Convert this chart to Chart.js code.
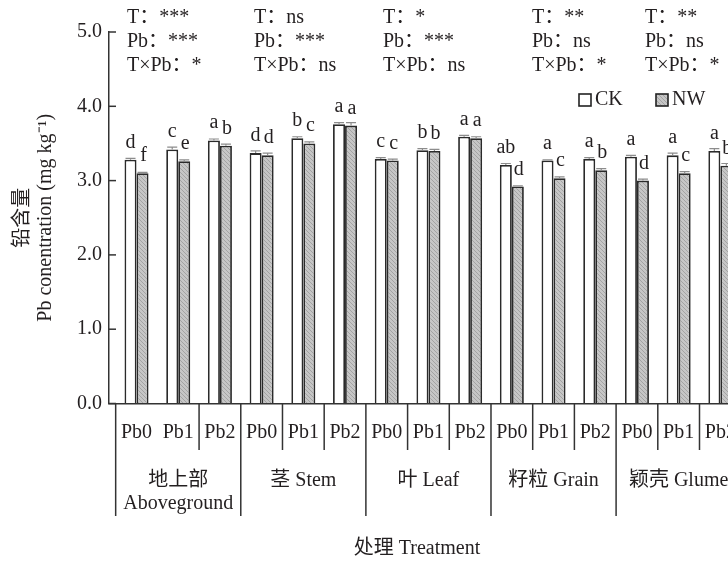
<!DOCTYPE html>
<html lang="zh">
<head>
    <meta charset="UTF-8">
    <title>铅含量 Pb concentration</title>
    <script src="https://cdn.jsdelivr.net/npm/chart.js"></script>
    <style>
        html, body {
            margin: 0;
            padding: 0;
            background: #ffffff;
            overflow: hidden;
        }
        #wrap {
            width: 750px;
            height: 562px;
        }
    </style>
</head>
<body>
    <div id="wrap"><canvas id="pbChart" width="750" height="562"></canvas></div>

    <script>
        // data
        const organs = ['地上部', '茎 Stem', '叶 Leaf', '籽粒 Grain', '颖壳 Glume'];
        const organSub = ['Aboveground', '', '', '', ''];
        const treatments = ['Pb0', 'Pb1', 'Pb2'];
        const ckValues = [3.28, 3.42, 3.54, 3.37, 3.57, 3.76, 3.29, 3.41, 3.59, 3.21, 3.27, 3.29, 3.32, 3.34, 3.40];
        const nwValues = [3.10, 3.26, 3.47, 3.34, 3.50, 3.74, 3.27, 3.40, 3.57, 2.92, 3.03, 3.14, 3.00, 3.10, 3.20];
        const ckErr = [0.02, 0.03, 0.02, 0.03, 0.02, 0.02, 0.02, 0.02, 0.02, 0.02, 0.01, 0.02, 0.02, 0.03, 0.03];
        const nwErr = [0.01, 0.02, 0.02, 0.03, 0.02, 0.04, 0.02, 0.02, 0.02, 0.01, 0.02, 0.02, 0.02, 0.02, 0.03];
        const ckLetters = ['d', 'c', 'a', 'd', 'b', 'a', 'c', 'b', 'a', 'ab', 'a', 'a', 'a', 'a', 'a'];
        const nwLetters = ['f', 'e', 'b', 'd', 'c', 'a', 'c', 'b', 'a', 'd', 'c', 'b', 'd', 'c', 'b'];
        const sigT = ['***', 'ns', '*', '**', '**'];
        const sigPb = ['***', '***', '***', 'ns', 'ns'];
        const sigTxPb = ['*', 'ns', 'ns', '*', '*'];
        const yTicks = [0, 1, 2, 3, 4, 5];

        const FONT = '"Liberation Serif", "Times New Roman", "Noto Sans CJK SC", serif';
        const INK = '#231f20';
        const annX = [127, 254, 383, 532, 645];

        const canvas = document.getElementById('pbChart');
        const ctx = canvas.getContext('2d');

        // grey textured fill for NW bars
        function makeHatch() {
            const c = document.createElement('canvas');
            c.width = 4;
            c.height = 4;
            const g = c.getContext('2d');
            g.fillStyle = '#c6c6c6';
            g.fillRect(0, 0, 4, 4);
            g.fillStyle = '#a3a3a3';
            for (let i = 0; i < 4; i++) g.fillRect(i, i, 1, 1);
            return ctx.createPattern(c, 'repeat');
        }

        const extrasPlugin = {
            id: 'extras',
            afterDatasetsDraw(chart) {
                const c = chart.ctx;
                const y = chart.scales.y;
                const errs = [ckErr, nwErr];
                const letters = [ckLetters, nwLetters];
                c.save();
                [0, 1].forEach(d => {
                    const meta = chart.getDatasetMeta(d);
                    meta.data.forEach((bar, i) => {
                        const v = chart.data.datasets[d].data[i].y;
                        const top = y.getPixelForValue(v + errs[d][i]);
                        const half = bar.width / 2 - 1;
                        c.strokeStyle = '#8c8c8c';
                        c.lineWidth = 1.2;
                        c.beginPath();
                        c.moveTo(bar.x, bar.y);
                        c.lineTo(bar.x, top);
                        c.moveTo(bar.x - half, top);
                        c.lineTo(bar.x + half, top);
                        c.stroke();

                        c.fillStyle = INK;
                        c.font = '20px ' + FONT;
                        c.textAlign = 'center';
                        c.textBaseline = 'alphabetic';
                        c.fillText(letters[d][i], bar.x + d, bar.y - 12);
                    });
                });
                c.restore();
            },
            afterDraw(chart) {
                const c = chart.ctx;
                const x = chart.scales.x;
                const y = chart.scales.y;
                const area = chart.chartArea;
                c.save();
                c.strokeStyle = '#333';
                c.lineWidth = 1.5;

                // inward tick marks on the y axis
                yTicks.forEach(v => {
                    const py = y.getPixelForValue(v);
                    c.beginPath();
                    c.moveTo(area.left, py);
                    c.lineTo(area.left + 7, py);
                    c.stroke();
                });

                // separators under the x axis
                for (let k = 0; k <= ckValues.length; k++) {
                    const px = x.getPixelForValue(k - 0.5);
                    let bottom = null;
                    if (k % 3 === 0) bottom = 516;
                    else if (k !== 1) bottom = 450;
                    if (bottom === null) continue;
                    c.beginPath();
                    c.moveTo(px, area.bottom);
                    c.lineTo(px, bottom);
                    c.stroke();
                }

                c.fillStyle = INK;
                c.font = '20px ' + FONT;
                c.textAlign = 'center';
                c.textBaseline = 'middle';

                // treatment labels
                ckValues.forEach((v, i) => {
                    c.fillText(treatments[i % 3], x.getPixelForValue(i), 433);
                });

                // organ labels
                organs.forEach((name, g) => {
                    const px = x.getPixelForValue(g * 3 + 1);
                    c.fillText(name, px, 481);
                    if (organSub[g]) c.fillText(organSub[g], px, 504);
                });

                // x axis title
                c.fillText('处理 Treatment', 417, 549);

                // significance notes
                c.textAlign = 'left';
                organs.forEach((name, g) => {
                    c.fillText('T：' + sigT[g], annX[g], 18);
                    c.fillText('Pb：' + sigPb[g], annX[g], 42);
                    c.fillText('T×Pb：' + sigTxPb[g], annX[g], 66);
                });

                // legend
                const items = [
                    { label: 'CK', fill: '#ffffff', bx: 579 },
                    { label: 'NW', fill: chart.data.datasets[1].backgroundColor, bx: 656 }
                ];
                items.forEach(it => {
                    c.fillStyle = it.fill;
                    c.fillRect(it.bx, 94, 12, 12);
                    c.strokeStyle = '#222';
                    c.lineWidth = 1.6;
                    c.strokeRect(it.bx, 94, 12, 12);
                    c.fillStyle = INK;
                    c.fillText(it.label, it.bx + 16, 100);
                });
                c.restore();
            }
        };

        new Chart(ctx, {
            type: 'bar',
            data: {
                datasets: [
                    {
                        label: 'CK',
                        data: ckValues.map((v, i) => ({ x: i, y: v })),
                        backgroundColor: '#ffffff',
                        borderColor: '#2a2a2a',
                        borderWidth: 1.8,
                        categoryPercentage: 0.576,
                        barPercentage: 1.0
                    },
                    {
                        label: 'NW',
                        data: nwValues.map((v, i) => ({ x: i, y: v })),
                        backgroundColor: makeHatch(),
                        borderColor: '#2a2a2a',
                        borderWidth: 1.8,
                        categoryPercentage: 0.576,
                        barPercentage: 1.0
                    }
                ]
            },
            options: {
                responsive: false,
                animation: false,
                layout: {
                    padding: { top: 32, right: 8.8, bottom: 0, left: 0 }
                },
                plugins: {
                    legend: { display: false },
                    tooltip: { enabled: false }
                },
                scales: {
                    x: {
                        type: 'linear',
                        offset: false,
                        min: -0.66,
                        max: 14.5,
                        ticks: { display: false },
                        grid: { display: false, offset: false },
                        border: { display: true, color: '#333', width: 1.5 },
                        afterFit(scale) {
                            scale.height = 158.5;
                        }
                    },
                    y: {
                        min: 0,
                        max: 5,
                        afterBuildTicks(scale) {
                            scale.ticks = yTicks.map(v => ({ value: v }));
                        },
                        ticks: {
                            color: INK,
                            padding: 7,
                            font: { family: FONT, size: 20 },
                            callback: v => v.toFixed(1)
                        },
                        grid: { drawOnChartArea: false, drawTicks: false },
                        border: { display: true, color: '#333', width: 1.5 },
                        title: {
                            display: true,
                            text: ['铅含量', 'Pb conentration (mg kg⁻¹)'],
                            color: INK,
                            font: { family: FONT, size: 20, lineHeight: 1.15 },
                            padding: { top: 11.5, bottom: 0 }
                        },
                        afterFit(scale) {
                            scale.width = 109;
                        }
                    }
                }
            },
            plugins: [extrasPlugin]
        });
    </script>
</body>
</html>
